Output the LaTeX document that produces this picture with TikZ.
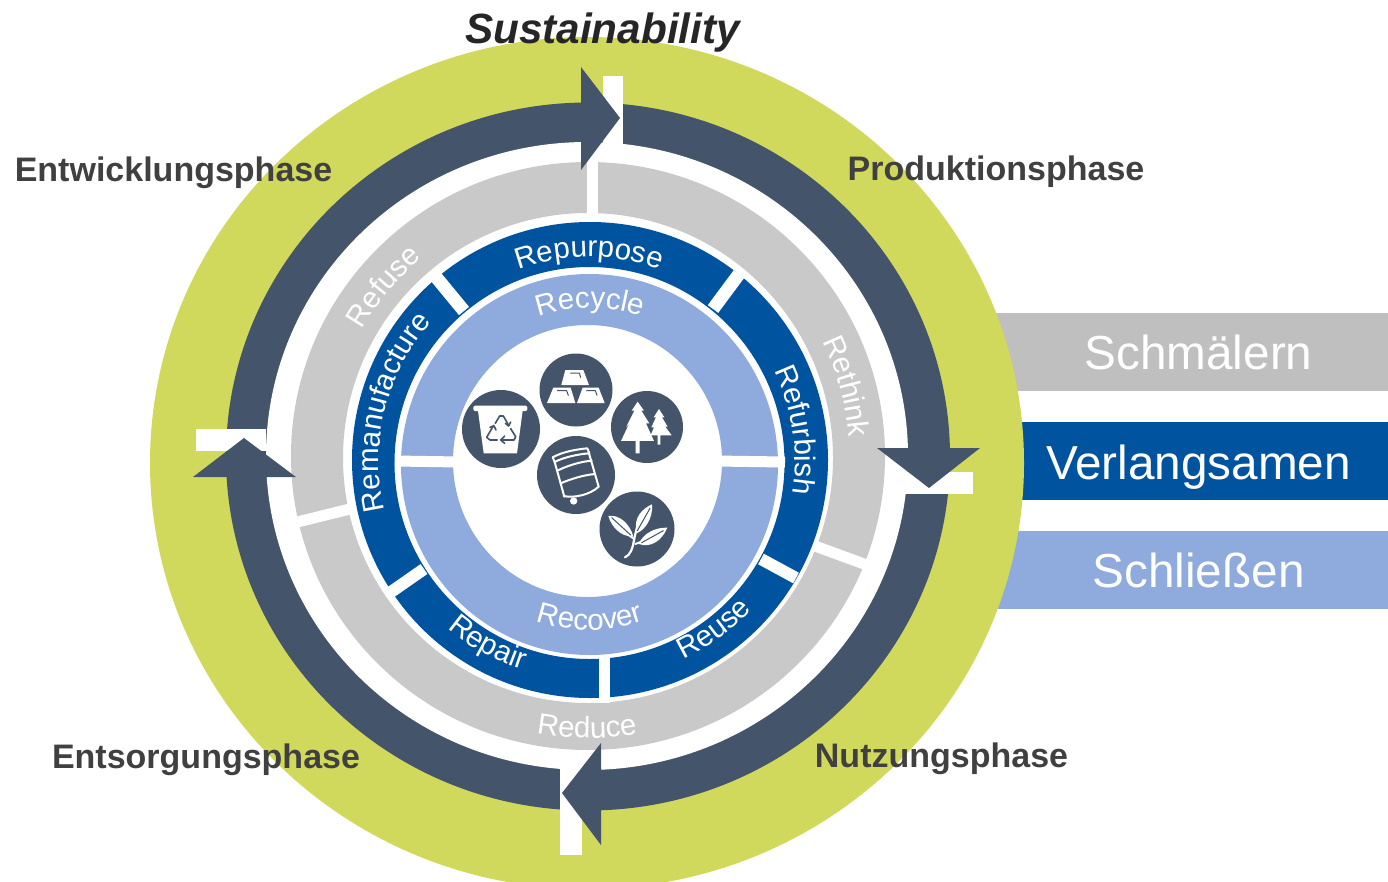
\documentclass[tikz,border=0pt]{standalone}
\usepackage{fontspec}
\setmainfont{Liberation Sans}
\usetikzlibrary{decorations.text}
\definecolor{leafgreen}{HTML}{D0D95C}
\definecolor{slate}{HTML}{44546A}
\definecolor{ringgray}{HTML}{C9C9C9}
\definecolor{bargray}{HTML}{BFBFBF}
\definecolor{deepblue}{HTML}{00549F}
\definecolor{softblue}{HTML}{8FAADC}
\definecolor{labelgray}{HTML}{404040}
\definecolor{titlegray}{HTML}{262626}
\newcommand{\ringf}{\fontsize{29.5}{31}\selectfont}
\newcommand{\arctext}[6]{%
  \path[decorate,decoration={text along path,text color=white,text={|\ringf|#6},text align=center}]
    ({#1+#3*cos(#4)},{#2+#3*sin(#4)}) arc[start angle=#4,end angle=#5,radius=#3];}
\tikzset{
  gapline/.style={draw=white,line width=#1},
  gapline/.default=11,
  phase/.style={font=\fontsize{34}{36}\selectfont\bfseries,text=labelgray,inner sep=0pt},
  barlabel/.style={font=\fontsize{47.7}{50}\selectfont,text=white,inner sep=0pt},
  iconbg/.style={fill=slate},
  glyph/.style={fill=white,draw=none},
  glyphline/.style={draw=white,line width=2pt,line cap=round,line join=round},
  glyphcut/.style={draw=slate,line width=1pt,line cap=round,line join=round},
  arrowhead/.style={fill=slate,draw=none},
}
\begin{document}
\begin{tikzpicture}[x=1pt,y=1pt]
\useasboundingbox (0,-881) rectangle (1388,0);
\fill[white] (0,-881) rectangle (1388,0);
% side bars
\fill[bargray] (900,-313) rectangle (1388,-391);
\fill[deepblue] (900,-422) rectangle (1388,-500);
\fill[softblue] (900,-531) rectangle (1388,-609);
% outer disc (clipped by picture)
\begin{scope}
\clip (0,-881) rectangle (1388,0);
\fill[leafgreen] (587,-463) ellipse[x radius=437,y radius=426];
\end{scope}
% dark ring
\fill[slate] (588,-456.5) ellipse[x radius=362,y radius=354];
\fill[white] (587,-456) ellipse[x radius=321,y radius=314];
% white notches
\fill[white] (603,-76) rectangle (623,-145);
\fill[white] (973,-472) rectangle (905,-494);
\fill[white] (560,-855) rectangle (582,-768);
\fill[white] (196,-429) rectangle (266,-451);
% gray ring
\fill[ringgray,even odd rule] (588,-456) ellipse[x radius=297,y radius=294] (588,-458) ellipse[x radius=245,y radius=245];
\draw[gapline] (592.5,-155) -- (592.5,-220);
\draw[gapline] (285,-525) -- (350,-509);
\draw[gapline] (815,-546) -- (875,-568);
% arrowheads
\fill[arrowhead] (581,-67) -- (620,-118) -- (581,-170) -- cycle;
\fill[arrowhead] (877,-448) -- (980,-448) -- (929,-488) -- cycle;
\fill[arrowhead] (601,-743) -- (601,-845) -- (562,-793) -- cycle;
\fill[arrowhead] (193,-477) -- (296,-477) -- (244,-438) -- cycle;
% blue ring
\fill[deepblue,even odd rule] (590,-460) ellipse[x radius=238,y radius=238] (589.5,-463) ellipse[x radius=195,y radius=196];
\draw[gapline=13] (436,-277) -- (464,-311);
\draw[gapline=13] (739,-274) -- (713,-309);
\draw[gapline=12] (796,-578) -- (761,-559);
\draw[gapline=12] (391,-592) -- (424,-569);
\draw[gapline] (604.5,-650) -- (604.5,-703);
% light ring
\fill[softblue,even odd rule] (589.5,-464.5) ellipse[x radius=188.5,y radius=190.5] (587.5,-461) ellipse[x radius=134.5,y radius=136];
\draw[gapline] (395,-461) -- (460,-462);
\draw[gapline] (715,-461) -- (785,-462);
% ring texts
\arctext{589}{-461}{204}{150}{30}{Repurpose}
\arctext{590}{-465}{157}{150}{30}{Recycle}
\arctext{587}{-457}{281}{210}{330}{Reduce}
\arctext{590}{-465}{165}{210}{330}{Recover}
\arctext{589}{-461}{219}{181}{301}{Repair}
\arctext{589}{-461}{220}{246.5}{366.5}{Reuse}
\arctext{588}{-458}{260}{185}{95}{Refuse}
\arctext{588}{-458}{262}{60.5}{-29.5}{Rethink}
\arctext{589}{-461}{206}{53.5}{-36.5}{Refurbish}
\arctext{589}{-461}{210}{226}{106}{Remanufacture}
% icon discs
\fill[iconbg] (576,-390) circle[radius=36.5];
\fill[iconbg] (647,-427) circle[radius=36];
\fill[iconbg] (501,-429) circle[radius=39];
\fill[iconbg] (576,-475) circle[radius=39];
\fill[iconbg] (637,-529) circle[radius=37.5];
% icon glyphs, in zoom-crop coordinates
\begin{scope}[shift={(440,-340)},x=.3333pt,y=-.3333pt]
% gold bars
\fill[glyph] (376,90) -- (430,90) -- (447,135) -- (364,135) -- cycle;
\fill[glyph] (340,143) -- (392,143) -- (406,189) -- (321,189) -- cycle;
\fill[glyph] (428,143) -- (476,143) -- (494,189) -- (411,189) -- cycle;
\draw[glyphcut] (392,99) -- (418,99) -- (422,112);
\draw[glyphcut] (352,152) -- (380,152) -- (385,166);
\draw[glyphcut] (440,152) -- (466,152) -- (471,166);
% big tree
\fill[glyph] (593,185) -- (612,212) -- (604,212) -- (628,250) -- (618,250) -- (642,303) -- (599,303) -- (599,340) -- (587,340) -- (587,303) -- (543,303) -- (568,250) -- (558,262) -- (583,212) -- (575,212) -- cycle;
% small tree
\fill[glyph] (657,207) -- (673,232) -- (666,232) -- (683,260) -- (676,260) -- (695,286) -- (661,286) -- (661,314) -- (653,314) -- (653,286) -- (632,286) -- (642,262) -- (634,262) -- (648,232) -- (641,232) -- cycle;
% bin
\fill[glyph,rounded corners=2pt] (100,197) rectangle (262,213);
\fill[glyph] (114,212) -- (248,212) -- (231,340) -- (131,340) -- cycle;
\draw[glyphcut,line width=1.6pt] (166,250) -- (179,228) -- (190,228) -- (206,256);
\draw[glyphcut,line width=1.6pt] (196,250) -- (206,258) -- (212,246);
\draw[glyphcut,line width=1.6pt] (161,256) -- (140,292) -- (150,300) -- (172,300);
\draw[glyphcut,line width=1.6pt] (150,262) -- (162,258) -- (168,270);
\draw[glyphcut,line width=1.6pt] (186,300) -- (222,300) -- (227,290) -- (212,266);
\draw[glyphcut,line width=1.6pt] (194,288) -- (182,300) -- (194,310);
% barrel
\draw[glyphline] (338,352) .. controls (368,335) and (410,328) .. (442,325) -- (448,340) .. controls (420,342) and (375,350) .. (344,366) -- cycle;
\draw[glyphline] (344,366) -- (373,470);
\draw[glyphline] (447,340) -- (476,440);
\draw[glyphline] (352,392) .. controls (380,378) and (420,365) .. (455,362);
\draw[glyphline] (362,430) .. controls (390,418) and (430,405) .. (465,402);
\draw[glyphline] (371,468) .. controls (400,475) and (450,465) .. (476,440);
\fill[glyph] (401,483) circle[radius=11];
% plant
\draw[glyphline,line width=2.2pt] (555,652) .. controls (572,645) and (578,625) .. (583,596) .. controls (588,570) and (596,545) .. (606,525);
\draw[glyphline] (581,596) -- (538,565);
\draw[glyphline] (586,612) -- (640,592);
\fill[glyph] (505,528) .. controls (535,522) and (570,550) .. (580,590) .. controls (540,590) and (515,560) .. (505,528) -- cycle;
\fill[glyph] (636,493) .. controls (610,505) and (578,530) .. (590,580) .. controls (615,570) and (640,535) .. (636,493) -- cycle;
\fill[glyph] (682,563) .. controls (645,562) and (610,580) .. (596,612) .. controls (630,624) and (665,605) .. (682,563) -- cycle;
\draw[glyphcut] (515,533) -- (572,585);
\draw[glyphcut] (630,505) -- (592,572);
\draw[glyphcut] (670,572) -- (605,608);
\end{scope}
% text labels
\node[inner sep=0pt,text=titlegray,font=\fontsize{42.3}{45}\selectfont\bfseries\itshape] (title) at (602.5,-33) {Sustainability};
\node[phase] (dev) at (173.5,-173) {Entwicklungsphase};
\node[phase] (prod) at (996,-172) {Produktionsphase};
\node[phase] (use) at (941.5,-759) {Nutzungsphase};
\node[phase] (eol) at (206,-760) {Entsorgungsphase};
\node[barlabel] (narrow) at (1198.5,-352.5) {Schmälern};
\node[barlabel] (slow) at (1198.5,-467) {Verlangsamen};
\node[barlabel] (close) at (1198.5,-570) {Schließen};
\end{tikzpicture}
\end{document}
